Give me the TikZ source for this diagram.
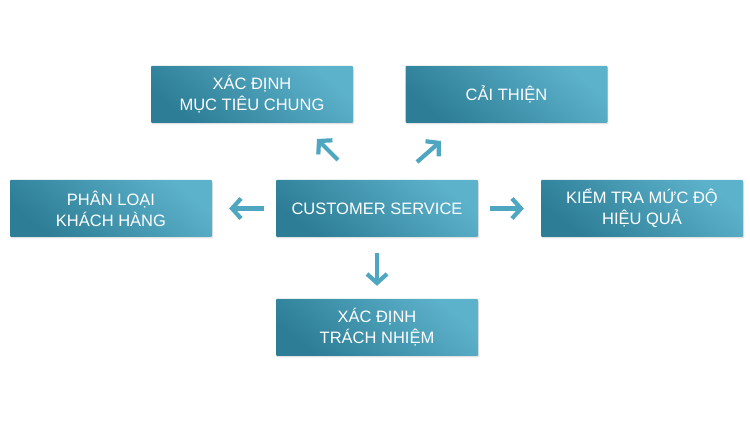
\documentclass[tikz,border=0pt]{standalone}
\usepackage{fontspec}
\setmainfont{Liberation Sans}
\usetikzlibrary{arrows.meta,shadows}
\definecolor{boxdark}{HTML}{2C7D95}
\definecolor{boxlight}{HTML}{5DB2CB}
\definecolor{arrowcol}{HTML}{4EA6C1}
\tikzset{
  goalbox/.style={rectangle, minimum width=202pt, minimum height=57pt,
    inner sep=0pt, align=center, text=white, rounded corners=1pt,
    bottom color=boxdark, top color=boxlight, shading angle=-40,
    drop shadow={opacity=0.22, shadow xshift=0.8pt, shadow yshift=-1.5pt},
    font=\fontsize{16.5}{21}\selectfont},
  flowarrow/.style={draw=arrowcol, line width=4.2pt,
    -{Straight Barb[length=9pt, width=20pt, line width=4.2pt]}}
}
\begin{document}
\begin{tikzpicture}[x=1pt,y=1pt]
    \useasboundingbox[fill=white] (0,0) rectangle (750,425);

    \node[goalbox] (muctieu) at (252,330.5) {XÁC ĐỊNH\\MỤC TIÊU CHUNG};
    \node[goalbox] (caithien) at (506.5,330.5) {CẢI THIỆN};
    \node[goalbox] (phanloai) at (111,216.5) {PHÂN LOẠI\\KHÁCH HÀNG};
    \node[goalbox] (cs) at (377,216.5) {CUSTOMER SERVICE};
    \node[goalbox] (kiemtra) at (642,216.5) {KIỂM TRA MỨC ĐỘ\\HIỆU QUẢ};
    \node[goalbox] (trachnhiem) at (377,97.5) {XÁC ĐỊNH\\TRÁCH NHIỆM};

    % short arrows between the boxes
    \coordinate (ul0) at (338,265);
    \coordinate (ul1) at (317,286);
    \coordinate (ur0) at (417,263);
    \coordinate (ur1) at (441,284);

    \draw[flowarrow] (ul0) -- (ul1);
    \draw[flowarrow] (ur0) -- (ur1);
    \draw[flowarrow, shorten <=12pt, shorten >=17pt] (cs.west) -- (phanloai.east);
    \draw[flowarrow, shorten <=12pt, shorten >=17pt] (cs.east) -- (kiemtra.west);
    \draw[flowarrow, shorten <=16pt, shorten >=13pt] (cs.south) -- (trachnhiem.north);
\end{tikzpicture}
\end{document}
